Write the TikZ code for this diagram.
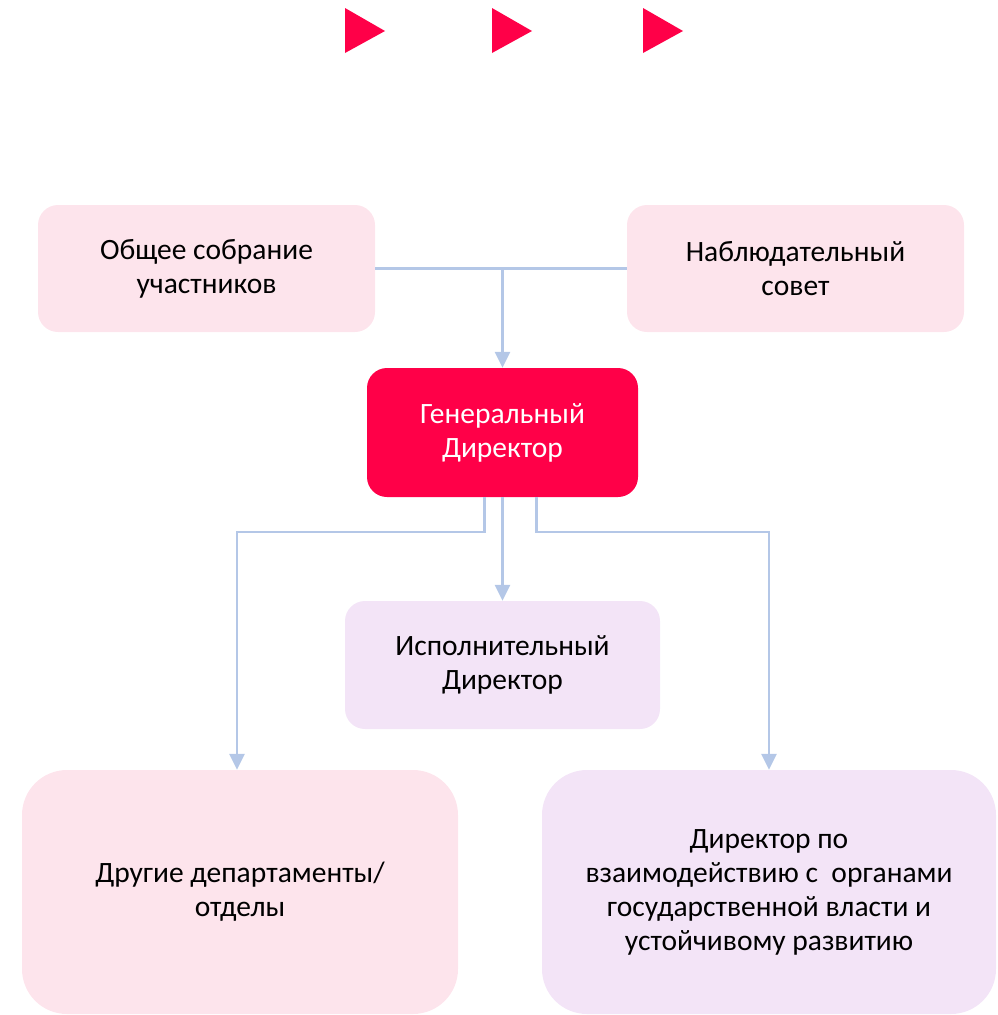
\documentclass[tikz,border=0pt]{standalone}
\usepackage{fontspec}
\setmainfont{Carlito}
\usepackage{xcolor}
\usetikzlibrary{arrows.meta, positioning}
\definecolor{rosa}{HTML}{FDE4EC}
\definecolor{lila}{HTML}{F3E4F7}
\definecolor{krasn}{HTML}{FF0048}
\definecolor{strelka}{HTML}{B4C7E7}
\tikzset{
  blok/.style={rounded corners=20pt, align=center, inner sep=0pt,
    font=\fontsize{29.5}{34}\selectfont},
  link/.style={draw=strelka, line width=2.5pt},
  tip/.style={-{Triangle[width=15pt,length=16pt]}}
}

\begin{document}
\begin{tikzpicture}[x=1pt,y=-1pt]
  \useasboundingbox (0,0) rectangle (997,1015);
  % markers on top
  \foreach \xx in {345,492,643}
    \fill[krasn] (\xx,8)--++(40,23)--++(-40,22)--cycle;
  % boxes
  \node[blok, fill=rosa, minimum width=337pt, minimum height=127pt] (ob) at (206.5,268.5) {Общее собрание\\участников};
  \node[blok, fill=rosa, minimum width=337pt, minimum height=127pt] (ns) at (795.5,268.5) {Наблюдательный\\совет};
  \node[blok, fill=krasn, text=white, minimum width=271pt, minimum height=129pt] (gd) at (502.5,432.5) {Генеральный\\Директор};
  \node[blok, fill=lila, minimum width=315pt, minimum height=128pt] (id) at (502.5,665) {Исполнительный\\Директор};
  \node[blok, fill=rosa, rounded corners=45pt, minimum width=436pt, minimum height=244pt] (dr) at (240,892) {Другие департаменты/\\отделы};
  \node[blok, fill=lila, rounded corners=45pt, minimum width=454pt, minimum height=244pt] (gr) at (769,892) {Директор по\\взаимодействию с~ органами\\государственной власти и\\устойчивому развитию};
  % connectors
  \coordinate (j) at (gd.north |- ob.east);
  \draw[link] (ob.east) -- (ns.west);
  \draw[link, tip] (j) -- (gd.north);
  \draw[link, tip] ([xshift=-18pt]gd.south) -- ++(0,35) -| ([xshift=-3pt]dr.north);
  \draw[link, tip] (gd.south) -- (id.north);
  \draw[link, tip] ([xshift=34pt]gd.south) -- ++(0,35) -| (gr.north);
\end{tikzpicture}
\end{document}
